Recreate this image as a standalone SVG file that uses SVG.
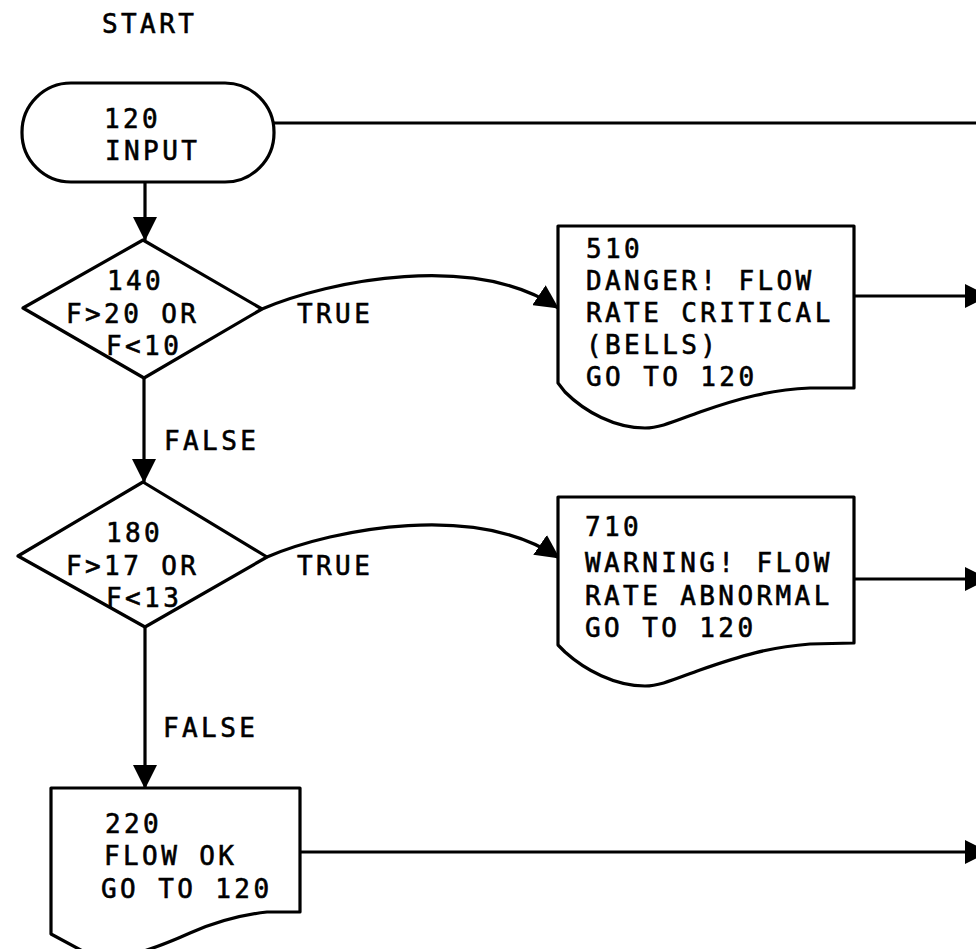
<svg xmlns="http://www.w3.org/2000/svg" width="976" height="949" viewBox="0 0 976 949">
<style>
.shape{fill:#fff;stroke:#000;stroke-width:3.2;stroke-linejoin:round}
.conn{fill:none;stroke:#000;stroke-width:3.2}
text{font-family:"DejaVu Sans Mono","Liberation Mono",monospace;font-size:26px;letter-spacing:3.4px;fill:#000;stroke:#000;stroke-width:0.6}
</style>
<defs>
<marker id="ah" viewBox="0 0 24 24" refX="23" refY="12" markerWidth="24" markerHeight="24" markerUnits="userSpaceOnUse" orient="auto">
<path d="M0,0 L24,12 L0,24 Z" fill="#000"/>
</marker>
</defs>
<rect width="976" height="949" fill="#fff"/>
<text x="102" y="33">START</text>
<g id="connectors">
<path class="conn" d="M273,123 H976"/>
<path class="conn" d="M145,182 V240" marker-end="url(#ah)"/>
<path class="conn" d="M144,378 V482" marker-end="url(#ah)"/>
<path class="conn" d="M145,627 V788" marker-end="url(#ah)"/>
<path class="conn" d="M262,309 C330,280 475,252 558,308" marker-end="url(#ah)"/>
<path class="conn" d="M267,557 C335,528 478,502 559,558" marker-end="url(#ah)"/>
<path class="conn" d="M854,296 H988" marker-end="url(#ah)"/>
<path class="conn" d="M854,579 H988" marker-end="url(#ah)"/>
<path class="conn" d="M300,852 H988" marker-end="url(#ah)"/>
<text x="297" y="323">TRUE</text>
<text x="297" y="575">TRUE</text>
<text x="164" y="450">FALSE</text>
<text x="163" y="737">FALSE</text>
</g>
<g id="n120">
<rect class="shape" x="22" y="83" width="252" height="99" rx="49" ry="49"/>
<text x="104" y="128">120</text>
<text x="105" y="160">INPUT</text>
</g>
<g id="n140">
<path class="shape" d="M143,240 L262,309 L144,378 L23,308 Z"/>
<text x="107" y="290">140</text>
<text x="66" y="323">F&gt;20 OR</text>
<text x="106" y="355">F&lt;10</text>
</g>
<g id="n180">
<path class="shape" d="M143,482 L267,557 L145,627 L18,556 Z"/>
<text x="106" y="542">180</text>
<text x="66" y="575">F&gt;17 OR</text>
<text x="106" y="607">F&lt;13</text>
</g>
<g id="n510">
<path class="shape" d="M558,226 H854 V388 L810,388 C770,390 740,398 700,412 C675,421 660,428 645,428 C615,428 585,412 565,392 L558,383 Z"/>
<text x="586" y="258">510</text>
<text x="586" y="290">DANGER! FLOW</text>
<text x="586" y="322">RATE CRITICAL</text>
<text x="586" y="354">(BELLS)</text>
<text x="586" y="386">GO TO 120</text>
</g>
<g id="n710">
<path class="shape" d="M558,497 H854 V643 L810,644 C770,647 740,656 700,670 C675,679 660,686 645,686 C615,686 585,670 565,652 L558,645 Z"/>
<text x="585" y="536">710</text>
<text x="585" y="572">WARNING! FLOW</text>
<text x="585" y="605">RATE ABNORMAL</text>
<text x="585" y="637">GO TO 120</text>
</g>
<g id="n220">
<path class="shape" d="M51,788 H300 V912 L267,912 C240,915 215,922 190,933 C170,942 150,950 130,955 L90,955 L51,934 Z"/>
<text x="105" y="833">220</text>
<text x="104" y="865">FLOW OK</text>
<text x="101" y="898">GO TO 120</text>
</g>
</svg>
